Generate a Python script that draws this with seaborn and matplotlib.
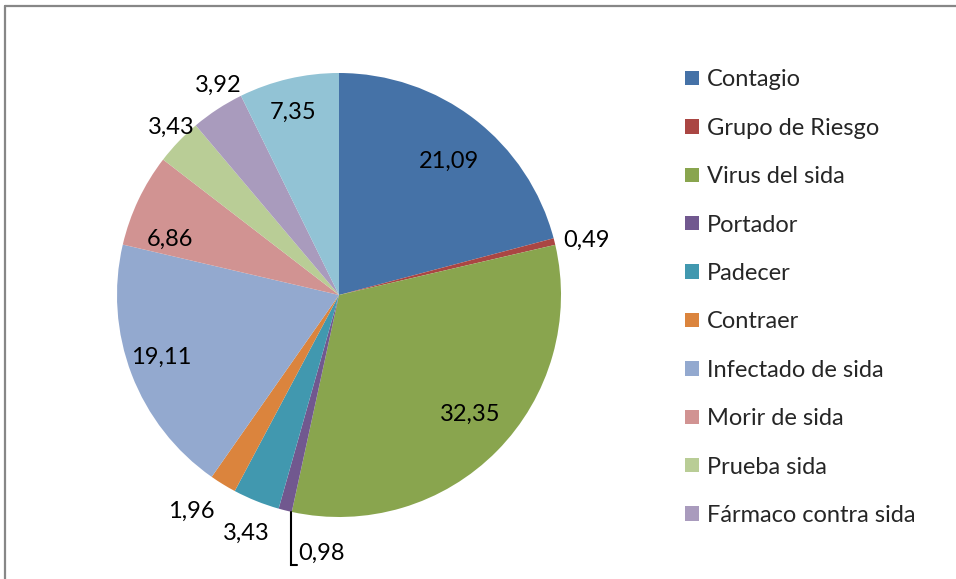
import numpy as np
import matplotlib
matplotlib.use("Agg")
import matplotlib.pyplot as plt
from matplotlib.lines import Line2D
from matplotlib.patches import Patch
import seaborn as sns

sns.set_theme(style="white")
plt.rcParams['font.family'] = ['Lato', 'DejaVu Sans']

categories = ["Contagio", "Grupo de Riesgo", "Virus del sida", "Portador", "Padecer",
              "Contraer", "Infectado de sida", "Morir de sida", "Prueba sida",
              "Fármaco contra sida"]
values = [21.09, 0.49, 32.35, 0.98, 3.43, 1.96, 19.11, 6.86, 3.43, 3.92, 7.35]
colors = ["#4572A7", "#AA4643", "#89A54E", "#71588F", "#4198AF", "#DB843D",
          "#93A9CF", "#D19392", "#B9CD96", "#A99BBD", "#92C3D5"]

# label placement styles (radius factor, angular offset in degrees clockwise)
label_r = [0.78, 1.14, 0.80, None, 1.15, 1.18, 0.85, 0.80, 1.07, 1.09, 0.85]
label_off = [1.8, 1.5, -2.3, 0, -0.6, 2.8, 1.5, -7.0, 1.3, 3.3, -1.1]

W, H = 956, 579
fig = plt.figure(figsize=(W / 100, H / 100), dpi=100)
cx, cy, R = 339, 295, 222
ax = fig.add_axes([(cx - R) / W, (H - cy - R) / H, 2 * R / W, 2 * R / H])

wedges, _ = ax.pie(values, colors=colors, startangle=90, counterclock=False,
                   radius=1.0, wedgeprops=dict(linewidth=0))
ax.set_xlim(-1, 1)
ax.set_ylim(-1, 1)
ax.axis("off")

fs = 17
for i, (w, v) in enumerate(zip(wedges, values)):
    txt = f"{v:.2f}".replace(".", ",")
    mid = (w.theta1 + w.theta2) / 2.0
    if label_r[i] is None:
        # leader line label
        a = np.deg2rad(mid + 1.5)
        x0, y0 = np.cos(a), np.sin(a)
        ax.plot([x0, x0, x0 + 0.03], [y0, -1.215, -1.215], color="black",
                lw=1.5, clip_on=False, solid_joinstyle="miter")
        ax.text(x0 + 0.035, -1.165, txt, ha="left", va="center", fontsize=fs,
                color="black")
        continue
    a = np.deg2rad(mid - label_off[i])
    r = label_r[i]
    ax.text(r * np.cos(a), r * np.sin(a), txt, ha="center", va="center",
            fontsize=fs, color="black")

handles = [Patch(facecolor=c, edgecolor="none") for c in colors[:len(categories)]]
fig.legend(handles, categories, loc="upper left", bbox_to_anchor=(676 / W, 1 - 60 / H),
           frameon=False, fontsize=fs, handlelength=0.56, handleheight=0.56,
           handletextpad=0.35, labelspacing=1.16, borderaxespad=0)

fig.add_artist(Line2D([5 / W, 1], [1 - 6 / H, 1 - 6 / H], color="#878787", lw=1.6))
fig.add_artist(Line2D([5 / W, 5 / W], [0, 1 - 6 / H], color="#878787", lw=1.6))

fig.savefig("out.png", dpi=100)
